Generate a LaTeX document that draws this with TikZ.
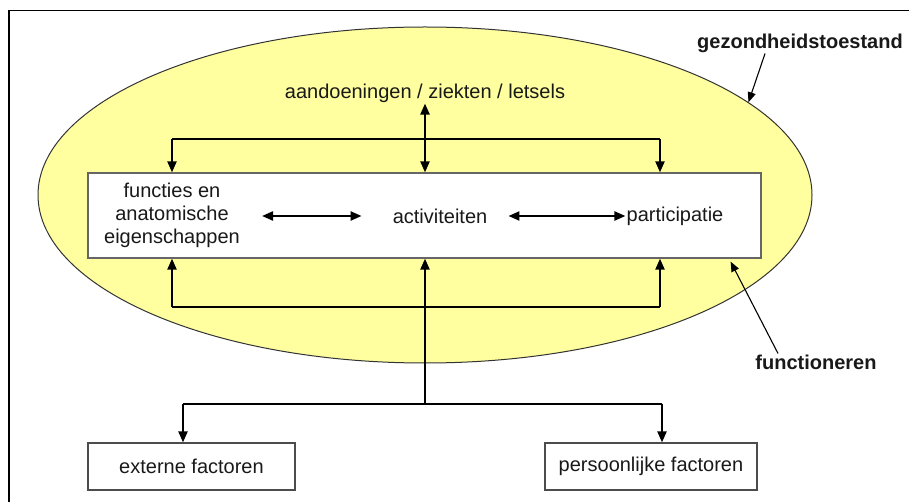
\documentclass[tikz,border=0pt]{standalone}
\usepackage{fontspec}
\setmainfont{Liberation Sans}
\usetikzlibrary{shapes.geometric,arrows.meta}
\definecolor{lichtgeel}{RGB}{255,255,160}

\begin{document}
\begin{tikzpicture}[x=1pt,y=-1pt]
        \useasboundingbox (0,0) rectangle (912,502);
        % kader
        \draw[line width=1.2pt] (8,10.5) -- (909,10.5);
        \draw[line width=2pt] (8.5,9.9) -- (8.5,502);

        \begin{scope}[every node/.style={font=\fontsize{20}{23}\selectfont, text=black!90, inner sep=1, align=center}]
                \node [ellipse, draw=black!80, line width=1pt, fill=lichtgeel, minimum width=774, minimum height=336] (G) at (425,195) {};
                \node [draw=black!60, line width=1.2pt, fill=white, minimum width=673, minimum height=85] (F) at (424.5,215.5) {};
                \node (A) at (425,93) {aandoeningen / ziekten / letsels};
                \node (F1) at (172,215) {functies en\\anatomische\\eigenschappen};
                \node (F2) at (440,216) {activiteiten};
                \node (F3) at (675,216) {participatie};
                \node [draw=black!70, line width=1.2pt, minimum width=207, minimum height=47] (E) at (191.5,466.5) {externe factoren};
                \node [draw=black!70, line width=1.2pt, minimum width=212, minimum height=47] (P) at (651,466.5) {persoonlijke factoren};
                \node [font=\fontsize{20}{23}\selectfont\bfseries] (LG) at (800,43) {gezondheidstoestand};
                \node [font=\fontsize{20}{23}\selectfont\bfseries] (LF) at (816,362) {functioneren};
        \end{scope}

        \coordinate (T1) at (172,139);
        \coordinate (T3) at (660,139);
        \coordinate (B1) at (172,307);
        \coordinate (B3) at (660,307);
        \coordinate (S) at (425,404);
        \coordinate (S1) at (183,404);
        \coordinate (S3) at (662,404);

        \begin{scope}[every path/.style={line width=2.2pt, >={Triangle[length=11pt,width=9pt]}}]
                \draw (T1) -- (T3);
                \draw [->] (T1) -- (T1 |- F.north);
                \draw [->] (T3) -- (T3 |- F.north);
                \draw [<->] (A.south) -- (A.south |- F.north);
                \draw (B1) -- (B3);
                \draw [->] (B1) -- (B1 |- F.south);
                \draw [->] (B3) -- (B3 |- F.south);
                \draw [->] (S) -- (S |- F.south);
                \draw (S1) -- (S3);
                \draw [->] (S1) -- (S1 |- E.north);
                \draw [->] (S3) -- (S3 |- P.north);
                \draw [<->, shorten <=21, shorten >=30] (F1.east |- F2) -- (F2.west);
                \draw [<->, shorten <=20] (F2.east) -- (F3.west);
        \end{scope}

        \begin{scope}[every path/.style={line width=1.1pt, >={Triangle[length=10pt,width=8pt]}}]
                \draw [->] ([xshift=-35]LG.south) -- (G.16);
                \draw [->] ([xshift=-38]LF.north) -- ([xshift=-31,yshift=-3]F.south east);
        \end{scope}
\end{tikzpicture}
\end{document}
